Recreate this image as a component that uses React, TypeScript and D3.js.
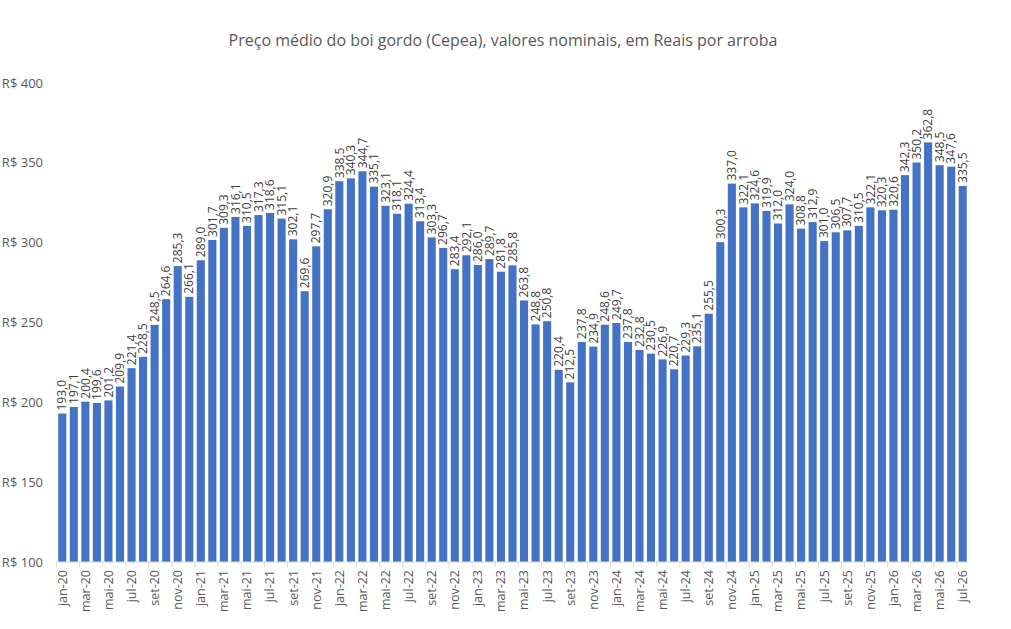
import React from 'react';
import * as d3 from 'd3';

const years = ['20', '21', '22', '23', '24', '25', '26'];
const monthNames = ['jan', 'fev', 'mar', 'abr', 'mai', 'jun', 'jul', 'ago', 'set', 'out', 'nov', 'dez'];

const values2020 = [193.0, 197.1, 200.4, 199.6, 201.2, 209.9, 221.4, 228.5, 248.5, 264.6, 285.3, 266.1];
const values2021 = [289.0, 301.7, 309.3, 316.1, 310.5, 317.3, 318.6, 315.1, 302.1, 269.6, 297.7, 320.9];
const values2022 = [338.5, 340.3, 344.7, 335.1, 323.1, 318.1, 324.4, 313.4, 303.3, 296.7, 283.4, 292.1];
const values2023 = [286.0, 289.7, 281.8, 285.8, 263.8, 248.8, 250.8, 220.4, 212.5, 237.8, 234.9, 248.6];
const values2024 = [249.7, 237.8, 232.8, 230.5, 226.9, 220.7, 229.3, 235.1, 255.5, 300.3, 337.0, 322.1];
const values2025 = [324.6, 319.9, 312.0, 324.0, 308.8, 312.9, 301.0, 306.5, 307.7, 310.5, 322.1, 320.3];
const values2026 = [320.6, 342.3, 350.2, 362.8, 348.5, 347.6, 335.5];

const yTicks = [100, 150, 200, 250, 300, 350, 400];

const allValues = [values2020, values2021, values2022, values2023, values2024, values2025, values2026];

const data = allValues.flatMap((vals, yi) =>
  vals.map((v, mi) => ({ label: `${monthNames[mi]}-${years[yi]}`, value: v, month: mi }))
);

const W = 1011;
const H = 629;
const font = '"Open Sans", Lato, sans-serif';

const fmt = (v: number) => v.toFixed(1).replace('.', ',');

export default function App() {
  const x = d3.scaleBand<string>()
    .domain(data.map(d => d.label))
    .range([56.5, 968.5])
    .paddingInner(0.3)
    .paddingOuter(0.15);

  const y = d3.scaleLinear().domain([100, 400]).range([562, 83]);

  const step = x.step();
  const x0 = x.range()[0];

  return (
    <svg width={W} height={H} style={{ position: 'absolute', left: 0, top: 0, background: '#fff' }} fontFamily={font}>
      <text x={503} y={46} textAnchor="middle" fontSize={16} fill="#595959">
        Preço médio do boi gordo (Cepea), valores nominais, em Reais por arroba
      </text>

      {yTicks.map(t => (
        <text key={t} x={43} y={y(t)} dy="0.35em" textAnchor="end" fontSize={13} fill="#595959">
          {`R$ ${t}`}
        </text>
      ))}

      {data.map(d => (
        <rect
          key={d.label}
          x={x(d.label)}
          y={y(d.value)}
          width={x.bandwidth()}
          height={y(100) - y(d.value)}
          fill="#4472C4"
        />
      ))}

      {data.map(d => {
        const cx = (x(d.label) ?? 0) + x.bandwidth() / 2;
        const ty = y(d.value) - 3;
        return (
          <text
            key={'l' + d.label}
            transform={`translate(${cx},${ty}) rotate(-90)`}
            dy="0.35em"
            fontSize={12}
            fill="#404040"
          >
            {fmt(d.value)}
          </text>
        );
      })}

      <line x1={x0} x2={x.range()[1]} y1={y(100)} y2={y(100)} stroke="#d9d9d9" strokeWidth={1} />
      {d3.range(0, data.length + 1, 2).map(i => (
        <line
          key={'t' + i}
          x1={x0 + i * step}
          x2={x0 + i * step}
          y1={y(100)}
          y2={y(100) + 5}
          stroke="#d9d9d9"
          strokeWidth={1}
        />
      ))}

      {data.filter((_, i) => i % 2 === 0).map(d => {
        const cx = (x(d.label) ?? 0) + x.bandwidth() / 2;
        return (
          <text
            key={'x' + d.label}
            transform={`translate(${cx},${y(100) + 8}) rotate(-90)`}
            dy="0.35em"
            textAnchor="end"
            fontSize={12.5}
            fill="#595959"
          >
            {d.label}
          </text>
        );
      })}
    </svg>
  );
}
